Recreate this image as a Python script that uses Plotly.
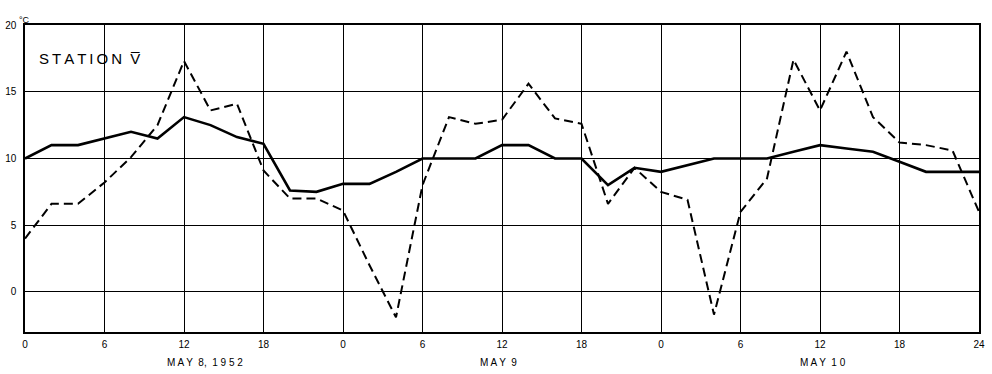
import plotly.graph_objects as go

# Hours since 00h, 8 May 1952, sampled every 2 hours
hours = list(range(0, 73, 2))

# Solid curve (°C)
solid_temp = [10.0, 11.0, 11.0, 11.5, 12.0, 11.5, 13.1, 12.5, 11.6, 11.1,
              7.6, 7.5, 8.1, 8.1, 9.0, 10.0, 10.0, 10.0, 11.0, 11.0,
              10.0, 10.0, 8.0, 9.3, 9.0, 9.5, 10.0, 10.0, 10.0, 10.5,
              11.0, 10.75, 10.5, 9.75, 9.0, 9.0, 9.0]

# Dashed curve (°C)
dashed_temp = [4.0, 6.6, 6.6, 8.2, 10.1, 12.5, 17.3, 13.6, 14.1, 9.1,
               7.0, 7.0, 6.1, 2.0, -1.9, 8.0, 13.1, 12.6, 12.9, 15.6,
               13.0, 12.6, 6.6, 9.3, 7.5, 6.9, -1.7, 6.0, 8.5, 17.4,
               13.6, 18.0, 13.1, 11.2, 11.0, 10.6, 6.0]

x_tick_vals = list(range(0, 73, 6))
x_tick_text = ["0", "6", "12", "18", "0", "6", "12", "18", "0", "6", "12", "18", "24"]
y_tick_vals = [0, 5, 10, 15, 20]

day_labels = ["M A Y  8,  1 9 5 2", "M A Y  9", "M A Y  1 0"]
day_label_pos = [13.6, 35.7, 60.2]

FONT = "Liberation Sans"
THIN = "\u2009"
station_text = THIN.join("STATION") + "\u00a0\u00a0V\u0305"

fig = go.Figure()
fig.add_trace(go.Scatter(x=hours, y=dashed_temp, mode="lines",
                         line=dict(color="black", width=2, dash="9px,5px"),
                         showlegend=False))
fig.add_trace(go.Scatter(x=hours, y=solid_temp, mode="lines",
                         line=dict(color="black", width=2.6),
                         showlegend=False))

fig.update_layout(
    width=992, height=374,
    margin=dict(l=25, r=13, t=25, b=42),
    paper_bgcolor="white", plot_bgcolor="white",
    font=dict(family=FONT, color="black", size=10),
)
fig.update_xaxes(range=[0, 72], tickvals=x_tick_vals, ticktext=x_tick_text,
                 showgrid=True, gridcolor="black", gridwidth=1.2,
                 showline=True, linecolor="black", linewidth=1.5, mirror=True,
                 ticks="", zeroline=False, tickfont=dict(size=10),
                 ticklabelstandoff=2, automargin=False)
fig.update_yaxes(range=[-3, 20], tickvals=y_tick_vals,
                 showgrid=True, gridcolor="black", gridwidth=1.2,
                 showline=True, linecolor="black", linewidth=1.5, mirror=True,
                 ticks="", zeroline=False, tickfont=dict(size=10),
                 ticklabelstandoff=5, automargin=False)

for label, pos in zip(day_labels, day_label_pos):
    fig.add_annotation(x=pos, y=0, xref="x", yref="paper", yshift=-30,
                       text=label, showarrow=False,
                       font=dict(size=10, family=FONT), yanchor="middle")

fig.add_annotation(x=0, y=1, xref="paper", yref="paper", xshift=-8, yshift=12,
                   text="°C", showarrow=False, font=dict(size=9, family=FONT))
fig.add_annotation(x=0, y=1, xref="paper", yref="paper", xshift=12, yshift=-23,
                   text=station_text, showarrow=False, xanchor="left",
                   font=dict(size=15, family=FONT))

fig.write_html("out.html")
